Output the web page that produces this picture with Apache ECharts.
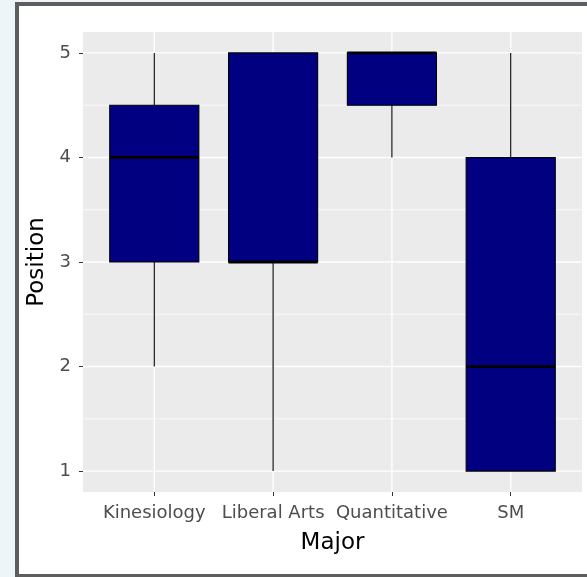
<!DOCTYPE html>
<html>
<head>
<meta charset="utf-8">
<script src="https://cdn.jsdelivr.net/npm/echarts@6/dist/echarts.min.js"></script>
<style>
  html, body { margin: 0; padding: 0; width: 587px; height: 577px; overflow: hidden; background: #eef5f9; }
  #frame { position: absolute; left: 15px; top: 2px; width: 700px; height: 568px; border-left: 4px solid #5e5e5e; border-top: 4px solid #5e5e5e; border-bottom: 3px solid #5e5e5e; background: #ffffff; }
  #chart { position: absolute; left: 0; top: 0; width: 587px; height: 577px; }
</style>
</head>
<body>
<div id="frame"></div>
<div id="chart"></div>
<script>
// Categories and five-number summaries (min, Q1, median, Q3, max)
const categories = ['Kinesiology', 'Liberal Arts', 'Quantitative', 'SM'];
const minVals    = [2, 1, 4,   1];
const q1Vals     = [3, 3, 4.5, 1];
const medianVals = [4, 3, 5,   2];
const q3Vals     = [4.5, 5, 5, 4];
const maxVals    = [5, 5, 5,   5];
const yTicks     = [1, 2, 3, 4, 5];
const yMinor     = [1.5, 2.5, 3.5, 4.5];
const xTicks     = [1, 2, 3, 4];

const boxData = categories.map((c, i) => [i + 1, minVals[i], q1Vals[i], medianVals[i], q3Vals[i], maxVals[i]]);

const chart = echarts.init(document.getElementById('chart'), null, { renderer: 'canvas' });

const tickFont = { fontFamily: 'DejaVu Sans', fontSize: 18, color: '#4d4d4d' };

function gridLines(vertical, width) {
  return function (params, api) {
    const cs = params.coordSys;
    const v = api.value(0);
    if (vertical) {
      const x = api.coord([v, 1])[0];
      return { type: 'line', shape: { x1: x, y1: cs.y, x2: x, y2: cs.y + cs.height },
               style: { stroke: '#ffffff', lineWidth: width } };
    }
    const y = api.coord([1, v])[1];
    return { type: 'line', shape: { x1: cs.x, y1: y, x2: cs.x + cs.width, y2: y },
             style: { stroke: '#ffffff', lineWidth: width } };
  };
}

const option = {
  animation: false,
  grid: { left: 83, top: 32, right: 5, bottom: 85, show: true, backgroundColor: '#EBEBEB', borderWidth: 0 },
  xAxis: {
    type: 'value', min: 0.4, max: 4.6,
    name: 'Major', nameLocation: 'middle', nameGap: 40,
    nameTextStyle: { fontFamily: 'DejaVu Sans', fontSize: 23, color: '#000000' },
    axisLine: { show: false },
    splitLine: { show: false },
    axisTick: { show: true, length: 4, customValues: xTicks, lineStyle: { color: '#333333', width: 1 } },
    axisLabel: { show: true, customValues: xTicks, margin: 12, ...tickFont,
                 formatter: v => categories[Math.round(v) - 1] || '' }
  },
  yAxis: {
    type: 'value', min: 0.8, max: 5.2,
    name: 'Position', nameLocation: 'middle', nameGap: 34, nameRotate: 90,
    nameTextStyle: { fontFamily: 'DejaVu Sans', fontSize: 23, color: '#000000' },
    axisLine: { show: false },
    splitLine: { show: false },
    axisTick: { show: true, length: 4, customValues: yTicks, lineStyle: { color: '#333333', width: 1 } },
    axisLabel: { show: true, customValues: yTicks, margin: 12, ...tickFont,
                 formatter: v => String(Math.round(v)) }
  },
  series: [
    { type: 'custom', z: 1, silent: true, data: yMinor.map(v => [v]), encode: { y: 0 }, renderItem: gridLines(false, 0.7) },
    { type: 'custom', z: 1, silent: true, data: yTicks.map(v => [v]), encode: { y: 0 }, renderItem: gridLines(false, 1.4) },
    { type: 'custom', z: 1, silent: true, data: xTicks.map(v => [v]), encode: { x: 0 }, renderItem: gridLines(true, 1.4) },
    {
      type: 'custom', z: 5,
      data: boxData,
      encode: { x: 0, y: [1, 2, 3, 4, 5] },
      renderItem: function (params, api) {
        const x = api.value(0);
        const half = api.size([0.75, 0])[0] / 2;
        const cx = api.coord([x, 1])[0];
        const yMin = api.coord([x, api.value(1)])[1];
        const yQ1 = api.coord([x, api.value(2)])[1];
        const yMed = api.coord([x, api.value(3)])[1];
        const yQ3 = api.coord([x, api.value(4)])[1];
        const yMax = api.coord([x, api.value(5)])[1];
        return {
          type: 'group',
          children: [
            { type: 'line', shape: { x1: cx, y1: yQ3, x2: cx, y2: yMax }, style: { stroke: '#000000', lineWidth: 1.1 } },
            { type: 'line', shape: { x1: cx, y1: yQ1, x2: cx, y2: yMin }, style: { stroke: '#000000', lineWidth: 1.1 } },
            { type: 'rect', shape: { x: cx - half, y: yQ3, width: half * 2, height: yQ1 - yQ3 },
              style: { fill: '#000080', stroke: '#000000', lineWidth: 1.1 } },
            { type: 'line', shape: { x1: cx - half, y1: yMed, x2: cx + half, y2: yMed }, style: { stroke: '#000000', lineWidth: 2.8 } }
          ]
        };
      }
    }
  ]
};
chart.setOption(option);
</script>
</body>
</html>
